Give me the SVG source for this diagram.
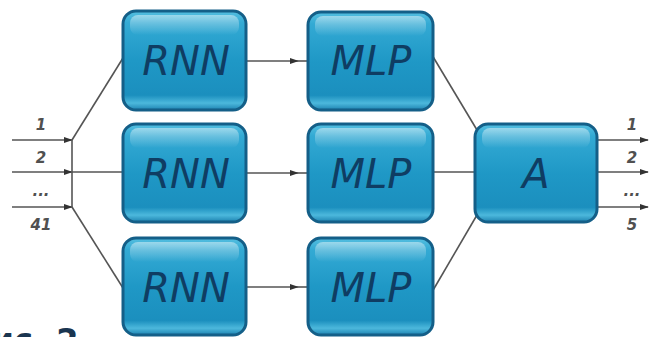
<svg xmlns="http://www.w3.org/2000/svg" width="653" height="337" viewBox="0 0 653 337">
<defs>
<linearGradient id="g" x1="0" y1="0" x2="0" y2="1">
<stop offset="0" stop-color="#55bfe0"/>
<stop offset="0.12" stop-color="#33aad4"/>
<stop offset="0.5" stop-color="#1f98c6"/>
<stop offset="0.85" stop-color="#1b8fbe"/>
<stop offset="0.93" stop-color="#4cb8dc"/>
<stop offset="1" stop-color="#1d82b0"/>
</linearGradient>
<linearGradient id="hl" x1="0" y1="0" x2="0" y2="1">
<stop offset="0" stop-color="#ffffff" stop-opacity="0.45"/>
<stop offset="1" stop-color="#ffffff" stop-opacity="0"/>
</linearGradient>
<marker id="ah" viewBox="0 0 10 10" refX="9" refY="5" markerWidth="9" markerHeight="9" markerUnits="userSpaceOnUse" orient="auto">
<path d="M0,1.5 L10,5 L0,8.5 z" fill="#333"/>
</marker>
</defs>
<style>
.box{fill:url(#g);stroke:#145f88;stroke-width:3}
.hi{fill:url(#hl)}
.lbl{font-family:"DejaVu Sans",Verdana,sans-serif;font-style:italic;font-size:40px;fill:#0f3d63;text-anchor:middle}
.num{font-family:"DejaVu Sans",Verdana,sans-serif;font-style:italic;font-weight:bold;font-size:15px;fill:#505050;text-anchor:middle}
.ln{stroke:#555;stroke-width:1.6;fill:none}
</style>
<rect width="653" height="337" fill="#ffffff"/>
<g id="connectors">
<path class="ln" d="M12 140 H72" marker-end="url(#ah)"/>
<path class="ln" d="M12 172 H72" marker-end="url(#ah)"/>
<path class="ln" d="M12 207 H72" marker-end="url(#ah)"/>
<path class="ln" d="M72 140 V207"/>
<path class="ln" d="M72 140 L123 58"/>
<path class="ln" d="M72 172 H123"/>
<path class="ln" d="M72 207 L123 288"/>
<path class="ln" d="M246 61 H298" marker-end="url(#ah)"/><path class="ln" d="M298 61 H308"/>
<path class="ln" d="M246 173 H298" marker-end="url(#ah)"/><path class="ln" d="M298 173 H308"/>
<path class="ln" d="M246 287 H298" marker-end="url(#ah)"/><path class="ln" d="M298 287 H308"/>
<path class="ln" d="M432 55 L477 130"/>
<path class="ln" d="M433 172 H475"/>
<path class="ln" d="M432 292 L477 215"/>
<path class="ln" d="M597 140 H648" marker-end="url(#ah)"/>
<path class="ln" d="M597 172 H648" marker-end="url(#ah)"/>
<path class="ln" d="M597 207 H648" marker-end="url(#ah)"/>
</g>
<g id="inputs">
<text class="num" x="41" y="130">1</text>
<text class="num" x="41" y="163">2</text>
<text class="num" x="41" y="196">...</text>
<text class="num" x="41" y="230">41</text>
</g>
<g id="outputs">
<text class="num" x="632" y="130">1</text>
<text class="num" x="632" y="163">2</text>
<text class="num" x="632" y="196">...</text>
<text class="num" x="632" y="230">5</text>
</g>
<g id="rnn1"><rect class="box" x="123" y="11" width="123" height="99" rx="13"/><rect class="hi" x="130" y="15" width="109" height="20" rx="8"/><text class="lbl" x="186" y="75">RNN</text></g>
<g id="rnn2"><rect class="box" x="123" y="124" width="123" height="98" rx="13"/><rect class="hi" x="130" y="128" width="109" height="20" rx="8"/><text class="lbl" x="186" y="188">RNN</text></g>
<g id="rnn3"><rect class="box" x="123" y="238" width="123" height="97" rx="13"/><rect class="hi" x="130" y="242" width="109" height="20" rx="8"/><text class="lbl" x="186" y="302">RNN</text></g>
<g id="mlp1"><rect class="box" x="308" y="12" width="125" height="98" rx="13"/><rect class="hi" x="315" y="16" width="111" height="20" rx="8"/><text class="lbl" x="371" y="75">MLP</text></g>
<g id="mlp2"><rect class="box" x="308" y="124" width="125" height="98" rx="13"/><rect class="hi" x="315" y="128" width="111" height="20" rx="8"/><text class="lbl" x="371" y="188">MLP</text></g>
<g id="mlp3"><rect class="box" x="308" y="238" width="125" height="97" rx="13"/><rect class="hi" x="315" y="242" width="111" height="20" rx="8"/><text class="lbl" x="371" y="302">MLP</text></g>
<g id="a"><rect class="box" x="475" y="124" width="122" height="98" rx="13"/><rect class="hi" x="482" y="128" width="108" height="20" rx="8"/><text class="lbl" x="536" y="188">A</text></g>
<text x="-32" y="351" font-family="'DejaVu Sans',Verdana,sans-serif" font-weight="bold" font-size="32" fill="#1a3550">Рис. 2</text>
</svg>
